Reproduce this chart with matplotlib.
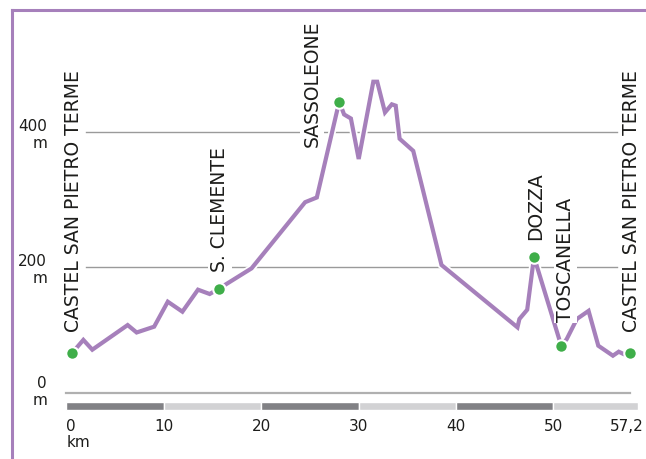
import matplotlib
matplotlib.use("Agg")
import matplotlib.pyplot as plt
import matplotlib.patheffects as pe
from matplotlib.lines import Line2D

# elevation profile (km, m)
profile_km = [0.6, 1.73, 2.65, 6.28, 7.2, 9.0, 10.4, 11.9, 13.5, 14.7, 15.66,
              19.0, 24.5, 25.7, 28.0, 28.5, 29.2, 30.0, 31.5, 31.9, 32.7,
              33.4, 33.8, 34.2, 35.6, 38.5, 46.3, 46.5, 47.3, 48.0, 50.8,
              51.35, 52.4, 53.6, 54.6, 56.1, 56.7, 57.2, 57.85]
profile_m = [73, 92, 77.5, 114, 103, 111.6, 148.6, 133.8, 166.4, 160, 168,
             198, 296, 303, 445, 426, 420, 360, 474.5, 474.5, 429,
             441, 439, 390, 372, 203, 110.6, 123, 136.7, 215, 83,
             93, 123, 135, 83.4, 68.6, 74.5, 71, 73]

# towns along the route
towns = ["CASTEL SAN PIETRO TERME", "S. CLEMENTE", "SASSOLEONE",
         "DOZZA", "TOSCANELLA", "CASTEL SAN PIETRO TERME"]
town_km = [0.6, 15.66, 28.0, 48.0, 50.8, 57.85]
town_m = [73, 168, 445, 215, 83, 73]

# axis annotations
km_ticks = [0, 10, 20, 30, 40, 50, 57.2]
km_labels = ["0\nkm", "10", "20", "30", "40", "50", "57,2"]
elev_ticks = [400, 200, 0]
elev_labels = ["400\nm", "200\nm", "0\nm"]
scale_edges = [0, 10, 20, 30, 40, 50, 58.7]

PURPLE = "#a680bb"
GREEN = "#3fae49"
TEXT = "#1d1d1b"
DARK_BAR = "#818185"
LIGHT_BAR = "#d2d2d4"

fig = plt.figure(figsize=(6.46, 4.6), dpi=100)
ax = fig.add_axes([0, 0, 1, 1])
ax.set_xlim(-6.827, 59.497)
ax.set_ylim(-84.44, 597.04)
ax.axis("off")

# frame (left + top)
fig.add_artist(Line2D([12 / 646, 12 / 646], [0, 1 - 11 / 460],
                      transform=fig.transFigure, color=PURPLE, lw=2.2))
fig.add_artist(Line2D([12 / 646, 1], [1 - 11 / 460, 1 - 11 / 460],
                      transform=fig.transFigure, color=PURPLE, lw=2.2))

# grid lines
for m in (200, 400):
    ax.plot([2.0, 56.5], [m, m], color="#9a9a9a", lw=1.0, zorder=1)
ax.plot([0, 57.85], [13.3, 13.3], color="#b0b0b0", lw=1.6, zorder=1)

# distance scale bar
for i in range(len(scale_edges) - 1):
    ax.bar(scale_edges[i], -12.5, width=scale_edges[i + 1] - scale_edges[i],
           bottom=0, align="edge", color=DARK_BAR if i % 2 == 0 else LIGHT_BAR,
           edgecolor="white", linewidth=1.0, zorder=2)

# km labels
for k, lab in zip(km_ticks, km_labels):
    if k == 0:
        ax.text(k, -23.5, lab, ha="left", va="top", fontsize=11,
                color=TEXT, linespacing=1.1)
    elif k == 57.2:
        ax.text(59.25, -23.5, lab, ha="right", va="top", fontsize=11,
                color=TEXT)
    else:
        ax.text(k, -23.5, lab, ha="center", va="top", fontsize=11, color=TEXT)

# elevation labels
for m, lab in zip(elev_ticks, elev_labels):
    ax.text(-2.0, m - 3 if m else 16, lab, ha="right", va="center",
            fontsize=11, color=TEXT, linespacing=1.15, multialignment="right")

# profile
ax.plot(profile_km, profile_m, color=PURPLE, lw=3.0, solid_joinstyle="miter",
        zorder=3, path_effects=[pe.Stroke(linewidth=5.5, foreground="white"),
                                pe.Normal()])
ax.plot(town_km, town_m, "o", color=GREEN, markersize=9,
        markeredgecolor="white", markeredgewidth=1.5, zorder=4)

# town names
label_pos = [(0.67, 105), (15.76, 194), (25.2, 379),
             (48.2, 241.5), (51.2, 120), (58.0, 105)]
for name, (lx, ly) in zip(towns, label_pos):
    ax.text(lx, ly, name, rotation=90, ha="center", va="bottom", fontsize=13.5,
            color=TEXT, zorder=5,
            bbox=dict(facecolor="white", edgecolor="none", pad=1.5))

fig.savefig("out.png", dpi=100)
